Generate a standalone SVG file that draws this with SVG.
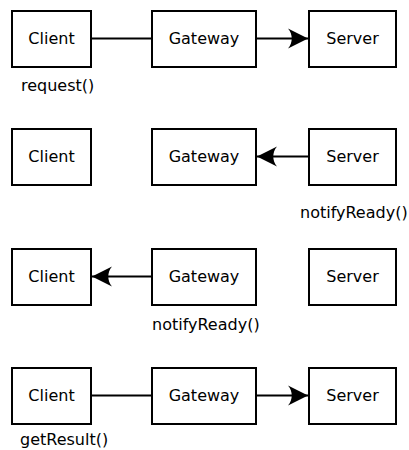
<svg xmlns="http://www.w3.org/2000/svg" width="409" height="450" viewBox="0 0 409 450">
  <style>
    .box { fill: #ffffff; stroke: #000000; stroke-width: 2; }
    .lbl { font-family: "DejaVu Sans", sans-serif; font-size: 16px; fill: #000000; }
    .name { text-anchor: middle; }
    .conn { stroke: #000000; stroke-width: 2; fill: none; }
  </style>
  <defs>
    <marker id="arrow" viewBox="-21 -11 22 22" refX="0" refY="0" markerWidth="22" markerHeight="22" markerUnits="userSpaceOnUse" orient="auto">
      <path d="M0,0 L-20,-10 C-15,-4 -15,4 -20,10 Z" fill="#000000"/>
    </marker>
  </defs>
  <rect width="409" height="450" fill="#ffffff"/>

  <g id="connectors">
    <line class="conn" x1="92" y1="38.5" x2="151" y2="38.5"/>
    <line class="conn" x1="257" y1="38.5" x2="308" y2="38.5" marker-end="url(#arrow)"/>
    <line class="conn" x1="308" y1="156.5" x2="257" y2="156.5" marker-end="url(#arrow)"/>
    <line class="conn" x1="151" y1="276.5" x2="92" y2="276.5" marker-end="url(#arrow)"/>
    <line class="conn" x1="92" y1="395.5" x2="151" y2="395.5"/>
    <line class="conn" x1="257" y1="395.5" x2="308" y2="395.5" marker-end="url(#arrow)"/>
  </g>

  <g id="client1"><rect class="box" x="12" y="11" width="79" height="56"/><text class="lbl name" x="51.5" y="43.5">Client</text></g>
  <g id="gateway1"><rect class="box" x="152" y="11" width="104" height="56"/><text class="lbl name" x="204" y="43.5">Gateway</text></g>
  <g id="server1"><rect class="box" x="309" y="11" width="87" height="56"/><text class="lbl name" x="352.5" y="43.5">Server</text></g>

  <g id="client2"><rect class="box" x="12" y="129" width="79" height="56"/><text class="lbl name" x="51.5" y="161.5">Client</text></g>
  <g id="gateway2"><rect class="box" x="152" y="129" width="104" height="56"/><text class="lbl name" x="204" y="161.5">Gateway</text></g>
  <g id="server2"><rect class="box" x="309" y="129" width="87" height="56"/><text class="lbl name" x="352.5" y="161.5">Server</text></g>

  <g id="client3"><rect class="box" x="12" y="249" width="79" height="56"/><text class="lbl name" x="51.5" y="281.5">Client</text></g>
  <g id="gateway3"><rect class="box" x="152" y="249" width="104" height="56"/><text class="lbl name" x="204" y="281.5">Gateway</text></g>
  <g id="server3"><rect class="box" x="309" y="249" width="87" height="56"/><text class="lbl name" x="352.5" y="281.5">Server</text></g>

  <g id="client4"><rect class="box" x="12" y="368" width="79" height="56"/><text class="lbl name" x="51.5" y="400.5">Client</text></g>
  <g id="gateway4"><rect class="box" x="152" y="368" width="104" height="56"/><text class="lbl name" x="204" y="400.5">Gateway</text></g>
  <g id="server4"><rect class="box" x="309" y="368" width="87" height="56"/><text class="lbl name" x="352.5" y="400.5">Server</text></g>

  <g id="labels">
    <text class="lbl" x="21" y="91">request()</text>
    <text class="lbl" x="300" y="218">notifyReady()</text>
    <text class="lbl" x="152" y="330">notifyReady()</text>
    <text class="lbl" x="20" y="445">getResult()</text>
  </g>
</svg>
